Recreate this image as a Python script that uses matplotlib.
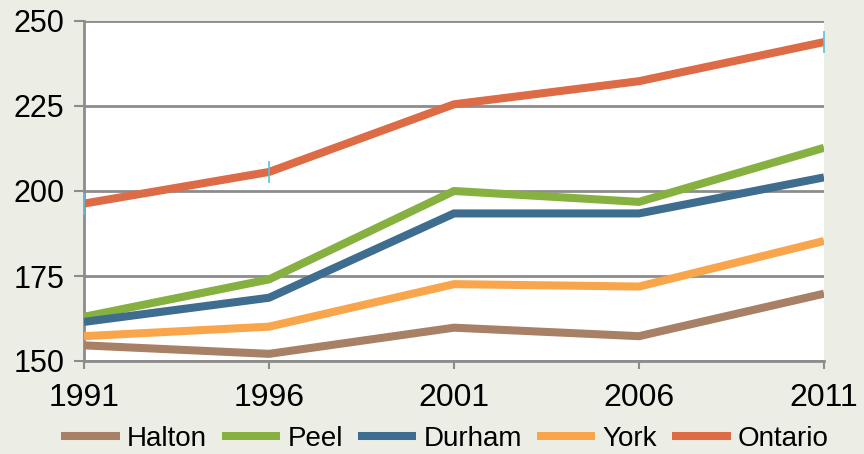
import matplotlib
matplotlib.use("Agg")
import matplotlib.pyplot as plt

years = ["1991", "1996", "2001", "2006", "2011"]
halton = [154.6, 152.1, 159.8, 157.3, 169.8]
peel = [163.0, 174.0, 200.0, 196.8, 212.7]
durham = [161.5, 168.6, 193.4, 193.4, 204.0]
york = [157.3, 160.1, 172.6, 171.9, 185.3]
ontario = [196.3, 205.6, 225.5, 232.3, 243.8]

series = [
    ("Halton", halton, "#A88066"),
    ("Peel", peel, "#86B03F"),
    ("Durham", durham, "#3F6D90"),
    ("York", york, "#F9A54B"),
    ("Ontario", ontario, "#DD6B45"),
]

plt.rcParams['font.family'] = ['Liberation Sans', 'DejaVu Sans']
bg = "#ECEEE5"
fig = plt.figure(figsize=(8.64, 4.54), dpi=100, facecolor=bg)
ax = fig.add_axes([84/864, 1-361/454, 740/864, 340/454])
ax.set_facecolor("white")

x = list(range(len(years)))
handles = []
for name, vals, col in series:
    h, = ax.plot(x, vals, color=col, lw=5.8, solid_joinstyle='miter', solid_capstyle='butt', label=name, zorder=3)
    handles.append(h)

# small light-blue marks on Ontario series
ax.plot([x[0], x[1], x[4]], [ontario[0], ontario[1], ontario[4]], ls='none', marker='|',
        ms=16, mew=1.2, color="#5BC0DE", zorder=4, clip_on=False)

ax.set_xlim(0, 4)
ax.set_ylim(150, 250)
ax.set_yticks([150, 175, 200, 225, 250])
ax.set_xticks(x)
ax.set_xticklabels(years)
ax.yaxis.grid(True, color="#8C8C8C", lw=2)
ax.set_axisbelow(True)
for s in ['top', 'right']:
    ax.spines[s].set_visible(False)
for s in ['left', 'bottom']:
    ax.spines[s].set_color("#8C8C8C")
    ax.spines[s].set_linewidth(2)
ax.tick_params(axis='y', length=7, width=1.5, color="#8C8C8C", labelsize=22, pad=7)
ax.tick_params(axis='x', length=6, width=1.5, color="#8C8C8C", labelsize=23, pad=10)

fig.legend(handles=handles, loc='lower center', bbox_to_anchor=(0.515, -0.05), ncol=5,
           frameon=False, fontsize=20, handlelength=2.1, handletextpad=0.25,
           columnspacing=0.55)

fig.savefig("out.png", dpi=100, facecolor=bg)
